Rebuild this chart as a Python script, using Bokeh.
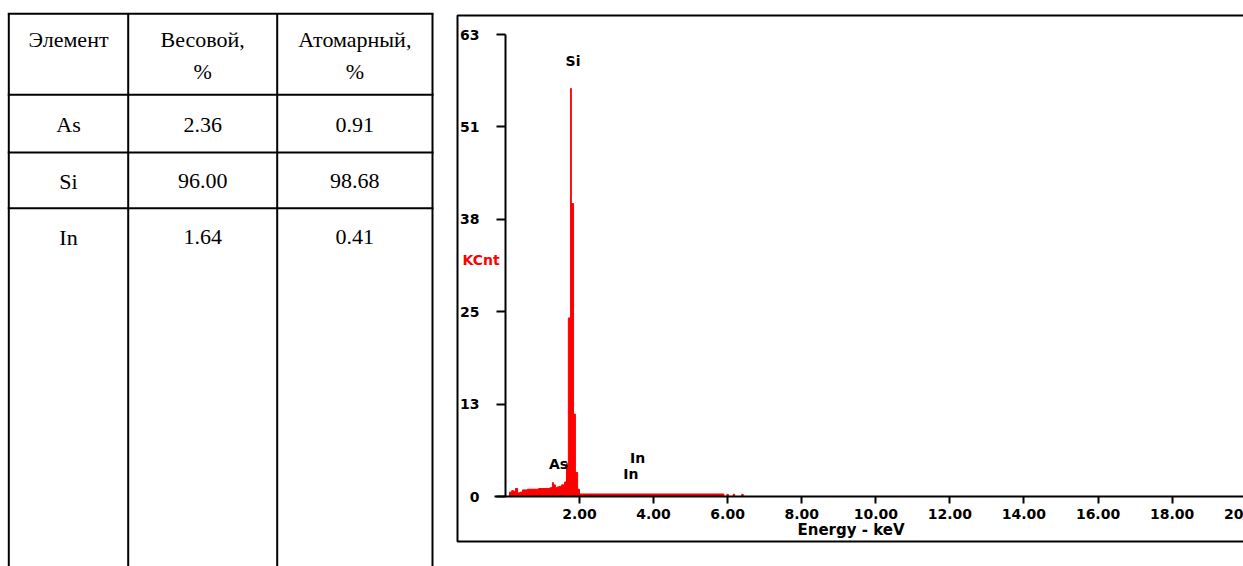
from bokeh.plotting import figure
from bokeh.models import (Range1d, FixedTicker, Label, ColumnDataSource,
                          NumeralTickFormatter, CustomJSTickFormatter, BoxAnnotation)
from bokeh.layouts import row
from bokeh.embed import file_html
from bokeh.resources import INLINE
from bokeh.core.properties import value

# ---------------- table data ----------------
table_headers = ["Элемент", "Весовой,", "Атомарный,"]
table_header_units = ["", "%", "%"]
elements = ["As", "Si", "In"]
weight_pct = [2.36, 96.00, 1.64]
atomic_pct = [0.91, 98.68, 0.41]

# ---------------- spectrum data ----------------
channel_edges_kev = [0.11, 0.17, 0.22, 0.27, 0.33, 0.40, 0.46, 0.53, 0.60, 0.70,
                     0.80, 0.90, 1.00, 1.10, 1.20, 1.27, 1.30, 1.35, 1.40, 1.45,
                     1.52, 1.60, 1.65, 1.70, 1.76, 1.78, 1.84, 1.89, 1.95, 2.00,
                     5.90, 5.98, 6.02, 6.15, 6.19, 6.38, 6.42]
channel_counts = [0.6, 0.8, 0.7, 1.1, 0.5, 0.6, 0.9, 0.9, 1.0, 1.0,
                  1.0, 1.1, 1.1, 1.1, 1.2, 1.9, 1.6, 1.2, 1.3, 1.4,
                  1.6, 2.0, 4.5, 24.5, 56.0, 40.2, 11.3, 3.3, 1.0, 0.35,
                  0.0, 0.3, 0.0, 0.3, 0.0, 0.3]
x_tick_values = [2, 4, 6, 8, 10, 12, 14, 16, 18, 20]
y_axis_max = 63.4
y_tick_labels = ["0", "13", "25", "38", "51", "63"]
peak_labels = ["Si", "As", "In", "In"]
peak_label_kev = [1.825, 1.435, 3.57, 3.39]
peak_label_cnt = [59.8, 4.5, 5.3, 3.1]

H = 566

# ================= table figure =================
TW = 450
t = figure(width=TW, height=H, x_range=Range1d(0, TW), y_range=Range1d(H, 0),
           output_backend="svg", toolbar_location=None,
           x_axis_type=None, y_axis_type=None, min_border=0)
t.outline_line_color = None
t.background_fill_color = "white"
t.border_fill_color = "white"

col_edges = [8.3, 127.7, 276.7, 432]
row_edges = [13.3, 94.3, 152, 207.7]
t.segment(x0=[col_edges[0] - 1] * len(row_edges), x1=[col_edges[-1] + 1] * len(row_edges),
          y0=row_edges, y1=row_edges, line_color="black", line_width=2)
t.segment(x0=col_edges, x1=col_edges, y0=[row_edges[0]] * len(col_edges),
          y1=[H + 5] * len(col_edges), line_color="black", line_width=2)

col_centers = [(col_edges[i] + col_edges[i + 1]) / 2 for i in range(3)]
serif = value("Liberation Serif")
FS = "22px"
t.text(x=col_centers, y=[39] * 3, text=table_headers, text_font=serif,
       text_font_size=FS, text_align="center", text_baseline="middle",
       text_color="black")
t.text(x=col_centers[1:], y=[71] * 2, text=table_header_units[1:], text_font=serif,
       text_font_size=FS, text_align="center", text_baseline="middle",
       text_color="black")
row_y = [124, 180.5, 236.5]
cells_x, cells_y, cells_t = [], [], []
for i, el in enumerate(elements):
    for j, txt in enumerate([el, f"{weight_pct[i]:.2f}", f"{atomic_pct[i]:.2f}"]):
        cells_x.append(col_centers[j])
        cells_y.append(row_y[i])
        cells_t.append(txt)
t.text(x=cells_x, y=cells_y, text=cells_t, text_font=serif, text_font_size=FS,
       text_align="center", text_baseline="middle", text_color="black")

# ================= spectrum figure =================
SW = 793
p = figure(width=SW, height=H, x_range=Range1d(-1.482, 19.927),
           y_range=Range1d(-9.606, 68.07), output_backend="svg",
           toolbar_location=None, min_border=0)
p.grid.visible = False
p.outline_line_color = None
p.background_fill_color = "white"
p.border_fill_color = "white"

# outer frame of the spectrum panel (its right side runs off the picture)
p.add_layout(BoxAnnotation(left=-1.293, right=30, bottom=-6.175, top=66.01,
                           fill_alpha=0, fill_color=None, line_color="black",
                           line_width=2, line_alpha=1))

src = ColumnDataSource(dict(left=channel_edges_kev[:-1], right=channel_edges_kev[1:],
                            top=channel_counts, bottom=[0] * len(channel_counts)))
p.quad(left="left", right="right", top="top", bottom="bottom", source=src,
       fill_color="red", line_color="red", line_width=1)

bold_font = "DejaVu Sans"

xa = p.xaxis[0]
xa.fixed_location = 0
xa.bounds = (-0.29, 19.93)
xa.ticker = FixedTicker(ticks=x_tick_values, minor_ticks=[])
xa.formatter = NumeralTickFormatter(format="0.00")
xa.axis_line_width = 2
xa.axis_line_color = "black"
xa.major_tick_out = 7
xa.major_tick_in = 0
xa.major_tick_line_width = 2
xa.minor_tick_line_color = None
xa.major_label_standoff = 5
xa.major_label_text_font = bold_font
xa.major_label_text_font_style = "bold"
xa.major_label_text_font_size = "14px"
xa.major_label_text_color = "black"

# last tick label, which in the picture runs off the right edge
p.add_layout(Label(x=x_tick_values[-1], y=-1.65, text=f"{x_tick_values[-1]:.2f}",
                   text_color="black", text_font=bold_font, text_font_style="bold",
                   text_font_size="14px", text_align="center", text_baseline="top"))

ya = p.yaxis[0]
ya.fixed_location = 0
ya.bounds = (0, y_axis_max)
ya.ticker = FixedTicker(ticks=[y_axis_max * i / 5 for i in range(6)], minor_ticks=[])
ya.formatter = CustomJSTickFormatter(args=dict(labels=y_tick_labels),
                                     code="return labels[index];")
ya.axis_line_width = 2
ya.axis_line_color = "black"
ya.major_tick_out = 9
ya.major_tick_in = 0
ya.major_tick_line_width = 2
ya.minor_tick_line_color = None
ya.major_label_standoff = 17
ya.major_label_text_font = bold_font
ya.major_label_text_font_style = "bold"
ya.major_label_text_font_size = "14px"
ya.major_label_text_color = "black"

p.text(x=peak_label_kev, y=peak_label_cnt, text=peak_labels,
       text_font=value(bold_font), text_font_style="bold", text_font_size="14px",
       text_align="center", text_baseline="middle", text_color="black")

p.add_layout(Label(x=-1.158, y=32.4, text="KCnt", text_color="red",
                   text_font=bold_font, text_font_style="bold",
                   text_font_size="14px", text_align="left",
                   text_baseline="middle"))
p.add_layout(Label(x=9.33, y=-4.53, text="Energy - keV", text_color="black",
                   text_font=bold_font, text_font_style="bold",
                   text_font_size="15px", text_align="center",
                   text_baseline="middle"))

layout = row(t, p)
open("out.html", "w").write(file_html(layout, INLINE))
